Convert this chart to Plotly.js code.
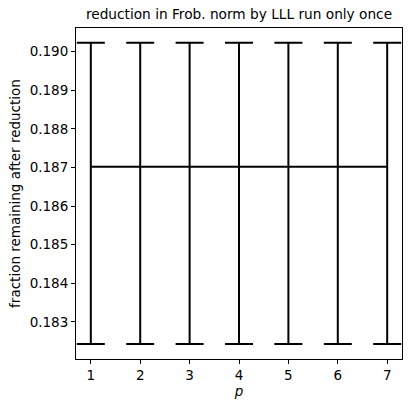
<!DOCTYPE html>
<html>
<head>
<meta charset="utf-8">
<script src="https://cdn.plot.ly/plotly-3.0.1.min.js"></script>
<style>
  body { margin: 0; padding: 0; background: white; }
  #graph { width: 412px; height: 410px; }
</style>
</head>
<body>
<div id="graph"></div>
<script>
// values
var pVals = [1, 2, 3, 4, 5, 6, 7];
var meanVals = [0.18702, 0.18702, 0.18702, 0.18702, 0.18702, 0.18702, 0.18702];
var upperVals = [0.19023, 0.19023, 0.19023, 0.19023, 0.19023, 0.19023, 0.19023];
var lowerVals = [0.18243, 0.18243, 0.18243, 0.18243, 0.18243, 0.18243, 0.18243];
var yTicks = [0.183, 0.184, 0.185, 0.186, 0.187, 0.188, 0.189, 0.190];

var errPlus = upperVals.map((u, i) => u - meanVals[i]);
var errMinus = lowerVals.map((l, i) => meanVals[i] - l);

var trace = {
  type: "scatter",
  mode: "lines",
  x: pVals,
  y: meanVals,
  line: { width: 2, color: "black" },
  error_y: {
    type: "data",
    symmetric: false,
    array: errPlus,
    arrayminus: errMinus,
    color: "black",
    thickness: 2,
    width: 14,
  },
  hoverinfo: "skip",
};

var axisStyle = {
  showgrid: false,
  zeroline: false,
  showline: true,
  mirror: true,
  linecolor: "black",
  linewidth: 1,
  ticks: "outside",
  ticklen: 4,
  tickwidth: 1,
  tickcolor: "black",
  tickfont: { family: "DejaVu Sans", size: 13.5, color: "black" },
};

var layout = {
  width: 412,
  height: 410,
  margin: { l: 76, r: 10, t: 28, b: 51 },
  paper_bgcolor: "white",
  plot_bgcolor: "white",
  showlegend: false,
  font: { family: "DejaVu Sans", color: "black" },
  title: {
    text: "reduction in Frob. norm by LLL run only once",
    font: { family: "DejaVu Sans", size: 13.7, color: "black" },
    xref: "paper",
    x: 0.5,
    yref: "container",
    y: 0.966,
    yanchor: "middle",
  },
  xaxis: {
    ...axisStyle,
    range: [0.7, 7.3],
    tickvals: pVals,
    title: {
      text: "<i>p</i>",
      font: { family: "DejaVu Sans", size: 13.5, color: "black" },
      standoff: 4,
    },
  },
  yaxis: {
    ...axisStyle,
    range: [0.18204, 0.19061],
    tickvals: yTicks,
    tickformat: ".3f",
    title: {
      text: "fraction remaining after reduction",
      font: { family: "DejaVu Sans", size: 13.5, color: "black" },
      standoff: 5,
    },
  },
};

var config = {
  staticPlot: true,
  displayModeBar: false,
};

Plotly.newPlot("graph", [trace], layout, config);
</script>
</body>
</html>
